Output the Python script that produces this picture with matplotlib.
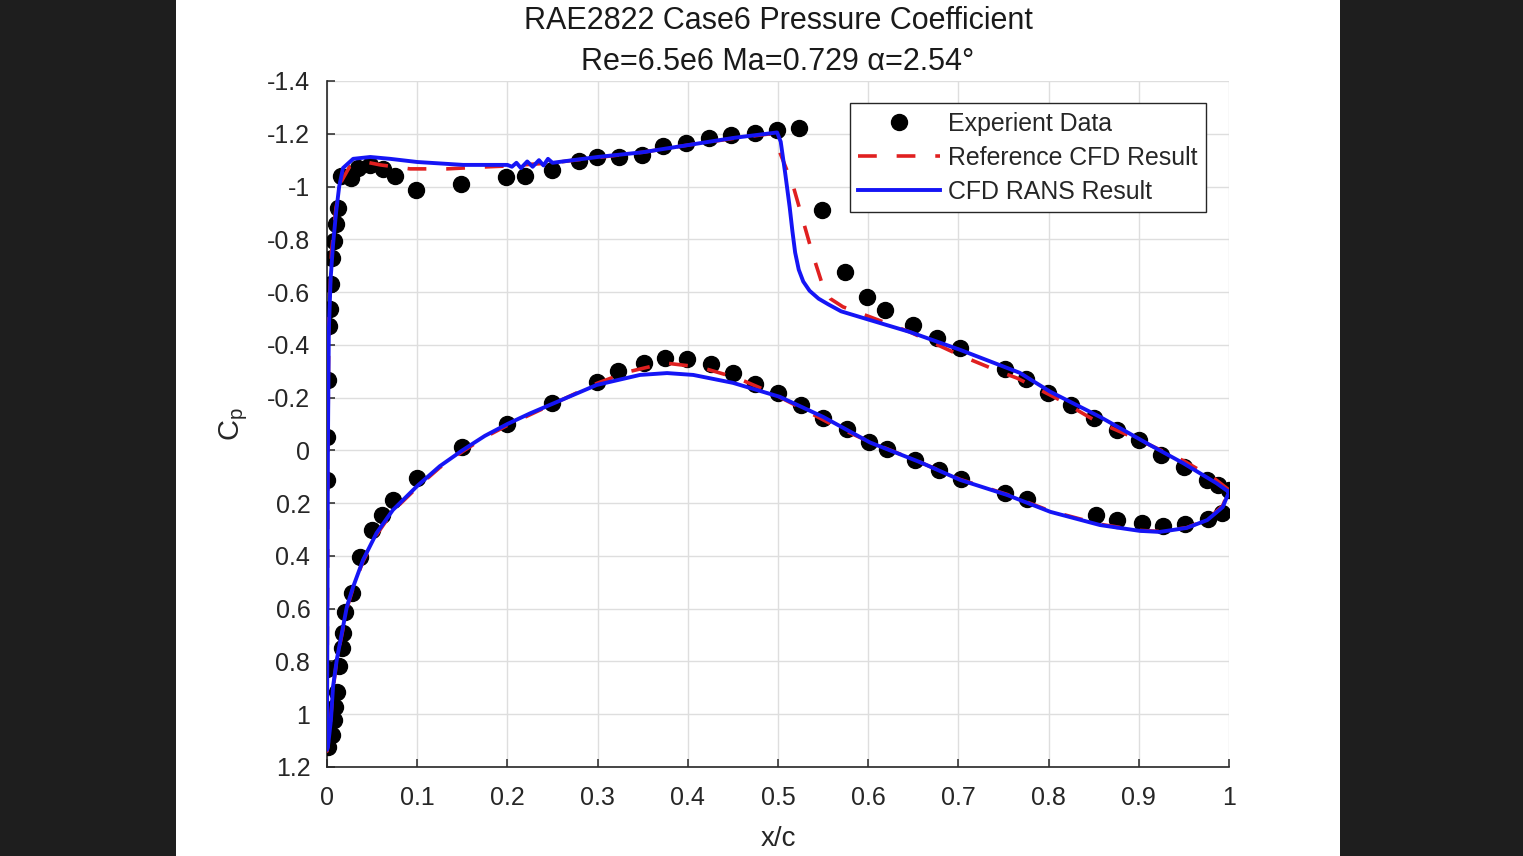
import numpy as np
import matplotlib

matplotlib.use("Agg")
import matplotlib.pyplot as plt
from matplotlib.patches import Rectangle

plt.rcParams["font.family"] = ["Liberation Sans", "DejaVu Sans"]
plt.rcParams["mathtext.fontset"] = "custom"
plt.rcParams["mathtext.rm"] = "Liberation Sans"

# ---- experiment (x/c, Cp) ----
exp_upper_x = [0.0, 0.0, 0.0, 0.001, 0.002, 0.003, 0.004, 0.0055, 0.008, 0.010, 0.012,
               0.0152, 0.0263, 0.034, 0.0477, 0.062, 0.0754, 0.0987, 0.149, 0.198, 0.2195,
               0.249, 0.279, 0.299, 0.324, 0.349, 0.3725, 0.398, 0.424, 0.448, 0.474,
               0.499, 0.523, 0.549, 0.574, 0.599, 0.619, 0.650, 0.676, 0.702, 0.752,
               0.775, 0.799, 0.825, 0.850, 0.876, 0.900, 0.925, 0.950, 0.976, 0.988, 1.0]
exp_upper_cp = [0.828, 0.112, -0.051, -0.267, -0.471, -0.536, -0.630, -0.729, -0.793, -0.858, -0.919,
                -1.040, -1.032, -1.070, -1.082, -1.067, -1.040, -0.987, -1.010, -1.036, -1.040,
                -1.063, -1.097, -1.112, -1.112, -1.119, -1.154, -1.165, -1.184, -1.195, -1.203,
                -1.214, -1.222, -0.911, -0.676, -0.581, -0.532, -0.475, -0.426, -0.388, -0.309,
                -0.271, -0.218, -0.172, -0.123, -0.077, -0.040, 0.017, 0.063, 0.112, 0.131, 0.150]
exp_lower_x = [0.001, 0.0055, 0.008, 0.009, 0.011, 0.013, 0.0166, 0.018, 0.020, 0.028,
               0.037, 0.050, 0.061, 0.073, 0.1, 0.15, 0.2, 0.249, 0.299, 0.3225, 0.351,
               0.375, 0.399, 0.426, 0.450, 0.475, 0.500, 0.525, 0.550, 0.576, 0.601,
               0.621, 0.652, 0.679, 0.703, 0.752, 0.776, 0.853, 0.876, 0.903, 0.927,
               0.951, 0.977, 0.992]
exp_lower_cp = [1.124, 1.078, 1.021, 0.972, 0.916, 0.817, 0.749, 0.692, 0.612, 0.540,
                0.404, 0.302, 0.245, 0.188, 0.105, -0.013, -0.100, -0.180, -0.259, -0.301, -0.331,
                -0.350, -0.346, -0.327, -0.293, -0.251, -0.217, -0.172, -0.123, -0.080, -0.032,
                -0.005, 0.036, 0.074, 0.109, 0.161, 0.184, 0.245, 0.264, 0.275, 0.286,
                0.280, 0.261, 0.238]

# ---- reference CFD (red dashed), TE upper -> LE -> TE lower ----
ref_upper_x = [1.0, 0.985, 0.95, 0.9, 0.853, 0.813, 0.765, 0.746, 0.702, 0.646, 0.602,
               0.572, 0.558, 0.55, 0.538, 0.527, 0.517, 0.502, 0.497, 0.492, 0.45, 0.4, 0.35,
               0.3, 0.25, 0.2, 0.173, 0.133, 0.092, 0.059, 0.04, 0.025, 0.016, 0.01,
               0.005, 0.002, 0.001, 0.0]
ref_upper_cp = [0.15, 0.11, 0.04, -0.04, -0.11, -0.19, -0.274, -0.298, -0.36, -0.449, -0.506,
                -0.544, -0.575, -0.62, -0.748, -0.88, -1.0, -1.13, -1.16, -1.2, -1.182, -1.157, -1.13,
                -1.11, -1.09, -1.078, -1.074, -1.067, -1.067, -1.082, -1.095, -1.075, -1.02, -0.92,
                -0.75, -0.5, 0.0, 1.14]
ref_lower_x = [0.001, 0.004, 0.007, 0.011, 0.017, 0.022, 0.03, 0.04, 0.055, 0.073, 0.1,
               0.125, 0.15, 0.175, 0.2, 0.25, 0.3, 0.333, 0.375, 0.413, 0.455, 0.491, 0.52, 0.565,
               0.6, 0.657, 0.702, 0.754, 0.802, 0.857, 0.9, 0.923, 0.953, 0.976, 0.993, 1.0]
ref_lower_cp = [1.12, 1.02, 0.9, 0.79, 0.69, 0.6, 0.51, 0.42, 0.32, 0.23, 0.14,
                0.065, 0.005, -0.05, -0.095, -0.175, -0.255, -0.297, -0.331, -0.316, -0.274, -0.221,
                -0.17, -0.089, -0.035, 0.044, 0.11, 0.167, 0.23, 0.28, 0.303, 0.307, 0.293, 0.262,
                0.21, 0.15]

# ---- RANS result (blue), TE upper -> LE -> TE lower ----
rans_upper_x = [1.0, 0.986, 0.949, 0.912, 0.857, 0.802, 0.768, 0.702, 0.646, 0.602, 0.57,
                0.556, 0.545, 0.535, 0.528, 0.523, 0.519, 0.516, 0.513, 0.508, 0.503, 0.499,
                0.45, 0.4, 0.35, 0.3, 0.25, 0.245, 0.24, 0.235, 0.228, 0.222, 0.215, 0.21,
                0.205, 0.2, 0.151, 0.1, 0.07, 0.048, 0.029, 0.0177, 0.0135, 0.01, 0.0067,
                0.004, 0.002, 0.001, 0.0005, 0.0]
rans_upper_cp = [0.158, 0.124, 0.048, -0.021, -0.127, -0.222, -0.294, -0.381, -0.449, -0.494, -0.527,
                 -0.553, -0.575, -0.605, -0.64, -0.685, -0.75, -0.83, -0.92, -1.05, -1.17, -1.205,
                 -1.184, -1.157, -1.13, -1.112, -1.09, -1.105, -1.08, -1.10, -1.075, -1.095, -1.07,
                 -1.09, -1.075, -1.082, -1.082, -1.093, -1.105, -1.112, -1.105, -1.07, -1.0, -0.9,
                 -0.78, -0.65, -0.45, 0.0, 0.6, 1.135]
rans_lower_x = [0.001, 0.0044, 0.0067, 0.011, 0.0166, 0.022, 0.029, 0.04, 0.055, 0.073, 0.1,
                0.125, 0.15, 0.175, 0.2, 0.225, 0.249, 0.299, 0.347, 0.377, 0.406, 0.45, 0.502,
                0.55, 0.602, 0.657, 0.702, 0.754, 0.802, 0.857, 0.901, 0.923, 0.953, 0.976,
                0.993, 1.0]
rans_lower_cp = [1.124, 1.02, 0.895, 0.79, 0.69, 0.593, 0.517, 0.415, 0.313, 0.226, 0.135,
                 0.06, 0.0, -0.055, -0.1, -0.14, -0.175, -0.248, -0.286, -0.293, -0.286, -0.256,
                 -0.203, -0.127, -0.03, 0.044, 0.112, 0.169, 0.233, 0.283, 0.305, 0.309, 0.294,
                 0.264, 0.215, 0.158]

y_ticks = np.round(np.arange(-1.4, 1.21, 0.2), 1)
y_tick_labels = ["-1.4", "-1.2", "-1", "-0.8", "-0.6", "-0.4", "-0.2", "0",
                 "0.2", "0.4", "0.6", "0.8", "1", "1.2"]
x_ticks = np.round(np.arange(0, 1.01, 0.1), 1)
x_tick_labels = ["0", "0.1", "0.2", "0.3", "0.4", "0.5", "0.6", "0.7", "0.8", "0.9", "1"]

fig = plt.figure(figsize=(15.23, 8.56), dpi=100, facecolor="#1e1e1e")
# white video frame area
fig.patches.append(Rectangle((176 / 1523, 0), (1340 - 176) / 1523, 1,
                             transform=fig.transFigure, facecolor="white",
                             edgecolor="none", zorder=-10))
ax = fig.add_axes([327 / 1523, 1 - 767 / 856, 902 / 1523, 686 / 856])

ax.plot(exp_upper_x + exp_lower_x, exp_upper_cp + exp_lower_cp, "o", color="black",
        markersize=11.5, label="Experient Data", zorder=3)
ax.plot(ref_upper_x + ref_lower_x, ref_upper_cp + ref_lower_cp, color="#e02020",
        linewidth=2.6, dashes=(5.2, 5.5), label="Reference CFD Result", zorder=4)
ax.plot(rans_upper_x + rans_lower_x, rans_upper_cp + rans_lower_cp, color="#1515f5",
        linewidth=2.8, label="CFD RANS Result", zorder=5)

ax.set_xlim(0, 1)
ax.set_ylim(1.2, -1.4)
ax.set_xticks(x_ticks)
ax.set_xticklabels(x_tick_labels)
ax.set_yticks(y_ticks)
ax.set_yticklabels(y_tick_labels)
ax.tick_params(direction="in", length=6, width=1.1, color="#262626",
               labelsize=18, labelcolor="#262626")
ax.tick_params(axis="x", pad=14)
ax.tick_params(axis="y", pad=12)
ax.grid(True, color="#dedede", linewidth=1.0)
ax.set_axisbelow(True)
for side in ["top", "right"]:
    ax.spines[side].set_visible(False)
for side in ["left", "bottom"]:
    ax.spines[side].set_color("#262626")
    ax.spines[side].set_linewidth(1.2)

ax.set_xlabel("x/c", fontsize=20, color="#262626", labelpad=11)
ax.set_ylabel(r"$\mathregular{C_p}$", fontsize=21, color="#262626", labelpad=12)
ax.set_title("RAE2822 Case6 Pressure Coefficient\nRe=6.5e6 Ma=0.729 \u03b1=2.54\u00b0",
             fontsize=22, color="#1a1a1a", linespacing=1.48, pad=8)

leg = ax.legend(loc="upper right", bbox_to_anchor=(0.9745, 0.968), borderaxespad=0,
                fontsize=17.9, frameon=True, fancybox=False, framealpha=1,
                edgecolor="#262626", handlelength=3.3, handletextpad=0.3,
                labelspacing=0.4, numpoints=1, borderpad=0.35)
leg.get_frame().set_linewidth(1.0)
for t in leg.get_texts():
    t.set_color("#262626")

fig.savefig("out.png", dpi=100, facecolor=fig.get_facecolor())
